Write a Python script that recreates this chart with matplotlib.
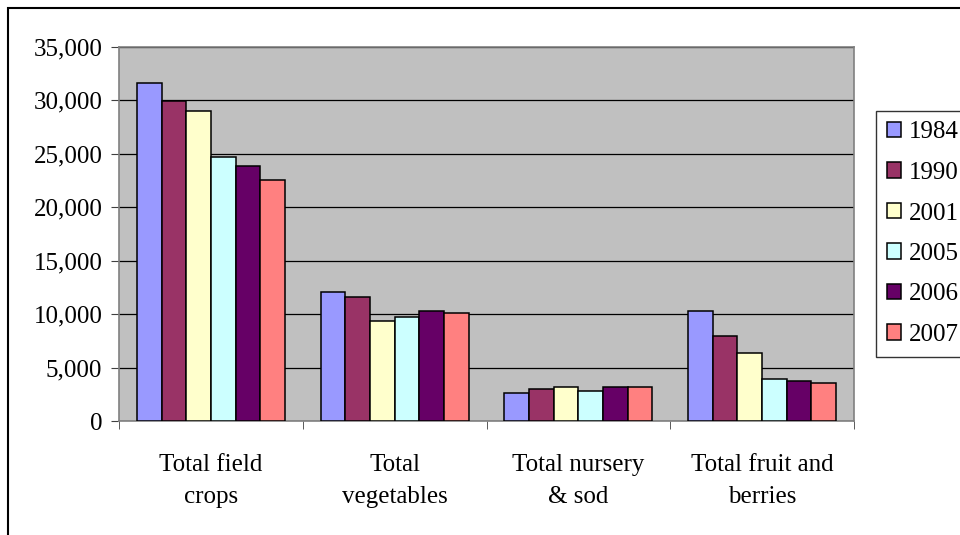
import numpy as np
import matplotlib.pyplot as plt
from matplotlib.patches import Rectangle
from matplotlib.ticker import FuncFormatter

# Categories and yearly values
categories = ["Total field\ncrops", "Total\nvegetables", "Total nursery\n& sod", "Total fruit and\nberries"]
years = ["1984", "1990", "2001", "2005", "2006", "2007"]
v1984 = [31600, 12100, 2600, 10300]
v1990 = [29900, 11600, 2950, 8000]
v2001 = [29000, 9350, 3150, 6350]
v2005 = [24700, 9700, 2800, 3950]
v2006 = [23900, 10300, 3150, 3700]
v2007 = [22600, 10100, 3150, 3550]
values = [v1984, v1990, v2001, v2005, v2006, v2007]

# Classic Excel palette
colors = ["#9999FF", "#993366", "#FFFFCC", "#CCFFFF", "#660066", "#FF8080"]

plt.rcParams["font.family"] = ["Liberation Serif", "DejaVu Serif"]
plt.rcParams["font.size"] = 18

fig = plt.figure(figsize=(9.6, 5.35), dpi=100)
ax = fig.add_axes([119 / 960, 1 - 421 / 535, (854 - 119) / 960, (421 - 47) / 535])
ax.set_facecolor("#C0C0C0")

x = np.arange(len(categories))
w = 0.1343
for i, (yr, vals) in enumerate(zip(years, values)):
    ax.bar(x + (i - 2.5) * w, vals, width=w, color=colors[i], edgecolor="black",
           linewidth=1.1, label=yr, zorder=3)

# Axis setup
ax.set_xlim(-0.5, len(categories) - 0.5)
ax.set_ylim(0, 35000)
ax.set_yticks(np.arange(0, 35001, 5000))
ax.yaxis.set_major_formatter(FuncFormatter(lambda v, p: f"{int(v):,}"))
ax.grid(axis="y", color="black", linewidth=0.9, zorder=1)
ax.set_axisbelow(True)

ax.set_xticks(x)
ax.set_xticklabels(categories, linespacing=1.55)
ax.set_xticks(np.arange(-0.5, len(categories)), minor=True)
ax.tick_params(axis="x", which="major", length=0, pad=24)
ax.tick_params(axis="x", which="minor", length=6, direction="out", color="#404040")
ax.tick_params(axis="y", length=6, direction="out", pad=6, color="#404040")

for s in ax.spines.values():
    s.set_color("#808080")
    s.set_linewidth(1.2)

# Legend on the right (partly cut off like the original)
leg = fig.legend(loc="upper left", bbox_to_anchor=(876 / 960, 1 - 111 / 535),
                 bbox_transform=fig.transFigure, fancybox=False, frameon=True,
                 edgecolor="black", handlelength=0.58, handleheight=0.58,
                 handletextpad=0.32, labelspacing=0.74, borderpad=0.42,
                 borderaxespad=0)
leg.get_frame().set_linewidth(1.0)

# Chart border
fig.patches.append(Rectangle((8 / 960, -0.5), 2, 1.5 - 8 / 535, transform=fig.transFigure,
                             fill=False, edgecolor="black", linewidth=1.5))

fig.savefig("out.png", dpi=100)
